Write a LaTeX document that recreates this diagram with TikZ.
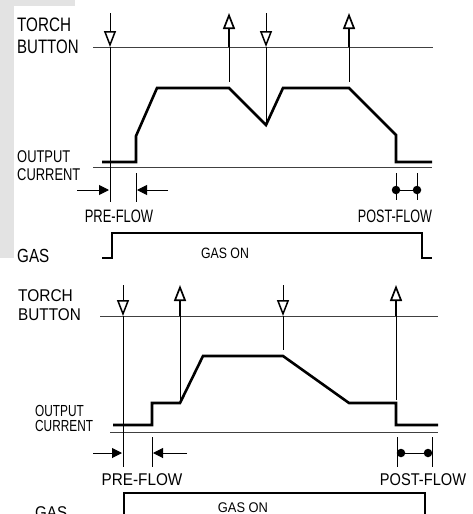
\documentclass[tikz,border=0pt]{standalone}
\usepackage{fontspec}
\usepackage{graphicx}
\setmainfont{Liberation Sans}
\usetikzlibrary{arrows.meta}
\begin{document}
\begin{tikzpicture}[x=1pt,y=-1pt,
  guide/.style={line width=0.8pt},
  axisln/.style={line width=0.9pt, black!75},
  wave/.style={line width=2.6pt, line join=miter},
  gasln/.style={line width=1.8pt},
  pressdn/.style={line width=1pt, -{Triangle[open,length=16pt,width=12pt,line width=1.5pt]}},
  releaseup/.style={line width=2.4pt, -{Triangle[open,length=16pt,width=12pt,line width=1.7pt]}},
  flowarr/.style={line width=1pt, -{Triangle[length=10pt,width=10pt]}},
  flowdot/.style={circle, fill, inner sep=0pt, minimum size=8.5pt},
  txt/.style={inner sep=0pt, anchor=base west},
  ctxt/.style={inner sep=0pt, anchor=base}]
\useasboundingbox (0,0) rectangle (472,514);
\clip (0,0) rectangle (472,514);
% background watermark
\fill[gray!22] (0,0) rectangle (14,258);
\fill[gray!22] (0,0) rectangle (75,6);

% ================= TOP PANEL =================
\node[txt,font=\fontsize{19.5}{20}\selectfont] (torchA) at (17,31) {\scalebox{0.78}[1]{TORCH}};
\node[txt,font=\fontsize{19.5}{20}\selectfont] (buttonA) at (17,53) {\scalebox{0.77}[1]{BUTTON}};
\node[txt,font=\fontsize{17}{18}\selectfont] (outputA) at (17,162) {\scalebox{0.76}[1]{OUTPUT}};
\node[txt,font=\fontsize{17}{18}\selectfont] (currentA) at (17,180) {\scalebox{0.76}[1]{CURRENT}};
\node[ctxt,font=\fontsize{18}{18}\selectfont] (preA) at (119,222) {\scalebox{0.72}[1]{PRE-FLOW}};
\node[ctxt,font=\fontsize{18}{18}\selectfont] (postA) at (395,222) {\scalebox{0.70}[1]{POST-FLOW}};
\node[txt,font=\fontsize{19}{19}\selectfont] (gasA) at (17,262) {\scalebox{0.8}[1]{GAS}};
\node[ctxt,font=\fontsize{15}{15}\selectfont] (gasonA) at (225,258) {\scalebox{0.82}[1]{GAS ON}};

\coordinate (bA1) at (93,47);  \coordinate (bA2) at (433,47);
\coordinate (cA1) at (93,167); \coordinate (cA2) at (432,167);
\draw[axisln] (bA1) -- (bA2);
\draw[axisln] (cA1) -- (cA2);

% torch arrows
\coordinate (a1t) at (110,13); \coordinate (a1b) at (110,47); \coordinate (a1e) at (110,202);
\coordinate (a2t) at (229,13); \coordinate (a2b) at (229,47); \coordinate (a2e) at (229,82);
\coordinate (a3t) at (266,13); \coordinate (a3b) at (266,47); \coordinate (a3e) at (266,125);
\coordinate (a4t) at (349,13); \coordinate (a4b) at (349,47); \coordinate (a4e) at (349,82);
\draw[pressdn] (a1t) -- (a1b);
\draw[guide] (a1b) -- (a1e);
\draw[releaseup] (a2b) -- (a2t);
\draw[guide] (a2e) -- (a2b);
\draw[pressdn] (a3t) -- (a3b);
\draw[guide] (a3b) -- (a3e);
\draw[releaseup] (a4b) -- (a4t);
\draw[guide] (a4e) -- (a4b);

% current waveform
\draw[wave] (102,162) -- (136,162) -- (136,136) -- (157,88) -- (229,88) -- (266,125)
  -- (283,88) -- (349,88) -- (396,135) -- (396,162) -- (432,162);

% pre-flow
\coordinate (pA1) at (77,190);  \coordinate (pA2) at (109,190);
\coordinate (pA3) at (168,190); \coordinate (pA4) at (137,190);
\draw[flowarr] (pA1) -- (pA2);
\draw[flowarr] (pA3) -- (pA4);
\coordinate (tA1) at (136,173); \coordinate (tA2) at (136,202);
\draw[guide] (tA1) -- (tA2);

% post-flow
\coordinate (qA1) at (396,173); \coordinate (qA2) at (396,200);
\coordinate (qA3) at (417,173); \coordinate (qA4) at (417,200);
\draw[guide] (qA1) -- (qA2);
\draw[guide] (qA3) -- (qA4);
\node[flowdot] (dA1) at (396,190) {};
\node[flowdot] (dA2) at (417,190) {};
\draw[line width=1pt] (dA1) -- (dA2);

% gas
\draw[gasln] (102,258) -- (112,258) -- (112,233) -- (422,233) -- (422,258) -- (432,258);

% ================= BOTTOM PANEL =================
\node[txt,font=\fontsize{17}{18}\selectfont] (torchB) at (18,301) {\scalebox{0.91}[1]{TORCH}};
\node[txt,font=\fontsize{17}{18}\selectfont] (buttonB) at (18,320) {\scalebox{0.9}[1]{BUTTON}};
\node[txt,font=\fontsize{16}{16}\selectfont] (outputB) at (35,416) {\scalebox{0.74}[1]{OUTPUT}};
\node[txt,font=\fontsize{16}{16}\selectfont] (currentB) at (35,431) {\scalebox{0.74}[1]{CURRENT}};
\node[ctxt,font=\fontsize{17}{17}\selectfont] (preB) at (142,485) {\scalebox{0.9}[1]{PRE-FLOW}};
\node[ctxt,font=\fontsize{17}{17}\selectfont] (postB) at (423,485) {\scalebox{0.86}[1]{POST-FLOW}};
\node[txt,font=\fontsize{17}{17}\selectfont] (gasB) at (35,518) {\scalebox{0.89}[1]{GAS}};
\node[ctxt,font=\fontsize{14}{14}\selectfont] (gasonB) at (243,512) {\scalebox{0.92}[1]{GAS ON}};

\coordinate (bB1) at (100,316); \coordinate (bB2) at (438,316);
\coordinate (cB1) at (110,432); \coordinate (cB2) at (438,432);
\draw[axisln] (bB1) -- (bB2);
\draw[axisln] (cB1) -- (cB2);

\coordinate (b1t) at (123,285); \coordinate (b1b) at (123,316); \coordinate (b1e) at (123,467);
\coordinate (b2t) at (180,285); \coordinate (b2b) at (180,316); \coordinate (b2e) at (180,400);
\coordinate (b3t) at (283,285); \coordinate (b3b) at (283,316); \coordinate (b3e) at (283,350);
\coordinate (b4t) at (396,285); \coordinate (b4b) at (396,316); \coordinate (b4e) at (396,400);
\draw[pressdn] (b1t) -- (b1b);
\draw[guide] (b1b) -- (b1e);
\draw[releaseup] (b2b) -- (b2t);
\draw[guide] (b2e) -- (b2b);
\draw[pressdn] (b3t) -- (b3b);
\draw[guide] (b3b) -- (b3e);
\draw[releaseup] (b4b) -- (b4t);
\draw[guide] (b4e) -- (b4b);

\draw[wave] (113,425) -- (152,425) -- (152,403) -- (180,403) -- (203,356) -- (283,356)
  -- (349,403) -- (396,403) -- (396,425) -- (438,425);

\coordinate (pB1) at (93,453);  \coordinate (pB2) at (122,453);
\coordinate (pB3) at (187,453); \coordinate (pB4) at (153,453);
\draw[flowarr] (pB1) -- (pB2);
\draw[flowarr] (pB3) -- (pB4);
\coordinate (tB1) at (152,437); \coordinate (tB2) at (152,467);
\draw[guide] (tB1) -- (tB2);

\coordinate (qB1) at (397,437); \coordinate (qB2) at (397,467);
\coordinate (qB3) at (432,437); \coordinate (qB4) at (432,467);
\draw[guide] (qB1) -- (qB2);
\draw[guide] (qB3) -- (qB4);
\node[flowdot] (dB1) at (401,453) {};
\node[flowdot] (dB2) at (428,453) {};
\draw[line width=1pt] (dB1) -- (dB2);

\draw[gasln] (124,520) -- (124,493) -- (425,493) -- (425,520);
\end{tikzpicture}
\end{document}
